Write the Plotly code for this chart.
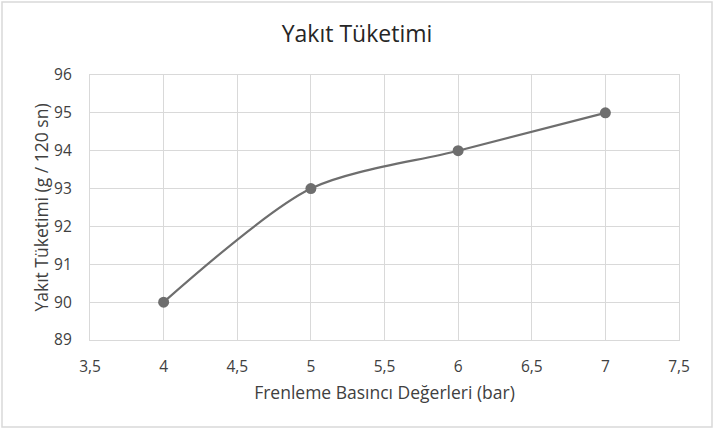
import plotly.graph_objects as go

# Veriler
basinc = [4, 5, 6, 7]
tuketim = [90, 93, 94, 95]

x_tick_vals = [3.5, 4, 4.5, 5, 5.5, 6, 6.5, 7, 7.5]
x_tick_text = ['3,5', '4', '4,5', '5', '5,5', '6', '6,5', '7', '7,5']
y_tick_vals = [89, 90, 91, 92, 93, 94, 95, 96]

font_ad = 'Open Sans'
cizgi_renk = '#6e6e6e'
grid_renk = '#d9d9d9'

fig = go.Figure()
fig.add_trace(go.Scatter(
    x=basinc, y=tuketim,
    mode='lines+markers',
    line=dict(color=cizgi_renk, width=2.2, shape='spline', smoothing=0.8),
    marker=dict(color=cizgi_renk, size=11),
    showlegend=False,
))

fig.update_layout(
    width=714, height=429,
    margin=dict(l=90, r=35, t=75, b=89),
    paper_bgcolor='white',
    plot_bgcolor='white',
    font=dict(family=font_ad, color='#404040', size=15.5),
    title=dict(text='Yakıt Tüketimi', x=0.5, xanchor='center', y=0.92, yanchor='middle',
               font=dict(family=font_ad, size=23, color='#262626')),
)

fig.update_xaxes(
    range=[3.5, 7.5], tickvals=x_tick_vals, ticktext=x_tick_text,
    showgrid=True, gridcolor=grid_renk, gridwidth=1.3,
    showline=True, linecolor=grid_renk, linewidth=1.3, mirror=True,
    zeroline=False, ticks='', ticklabelstandoff=12,
    title=dict(text='Frenleme Basıncı Değerleri (bar)', standoff=10,
               font=dict(size=17.5)),
)
fig.update_yaxes(
    range=[89, 96], tickvals=y_tick_vals,
    showgrid=True, gridcolor=grid_renk, gridwidth=1.3,
    showline=True, linecolor=grid_renk, linewidth=1.3, mirror=True,
    zeroline=False, ticks='', ticklabelstandoff=14,
    title=dict(text='Yakıt Tüketimi (g / 120 sn)', standoff=0,
               font=dict(size=17.5)),
)

# Dış çerçeve
fig.add_shape(type='rect', xref='paper', yref='paper',
              x0=-88 / 589, x1=(589 + 33) / 589, y0=-87 / 265, y1=(265 + 73) / 265,
              line=dict(color='#d9d9d9', width=1.5), fillcolor='rgba(0,0,0,0)')

fig.write_html('out.html', config={'displayModeBar': False},
               post_script="document.body.style.margin='0';")
